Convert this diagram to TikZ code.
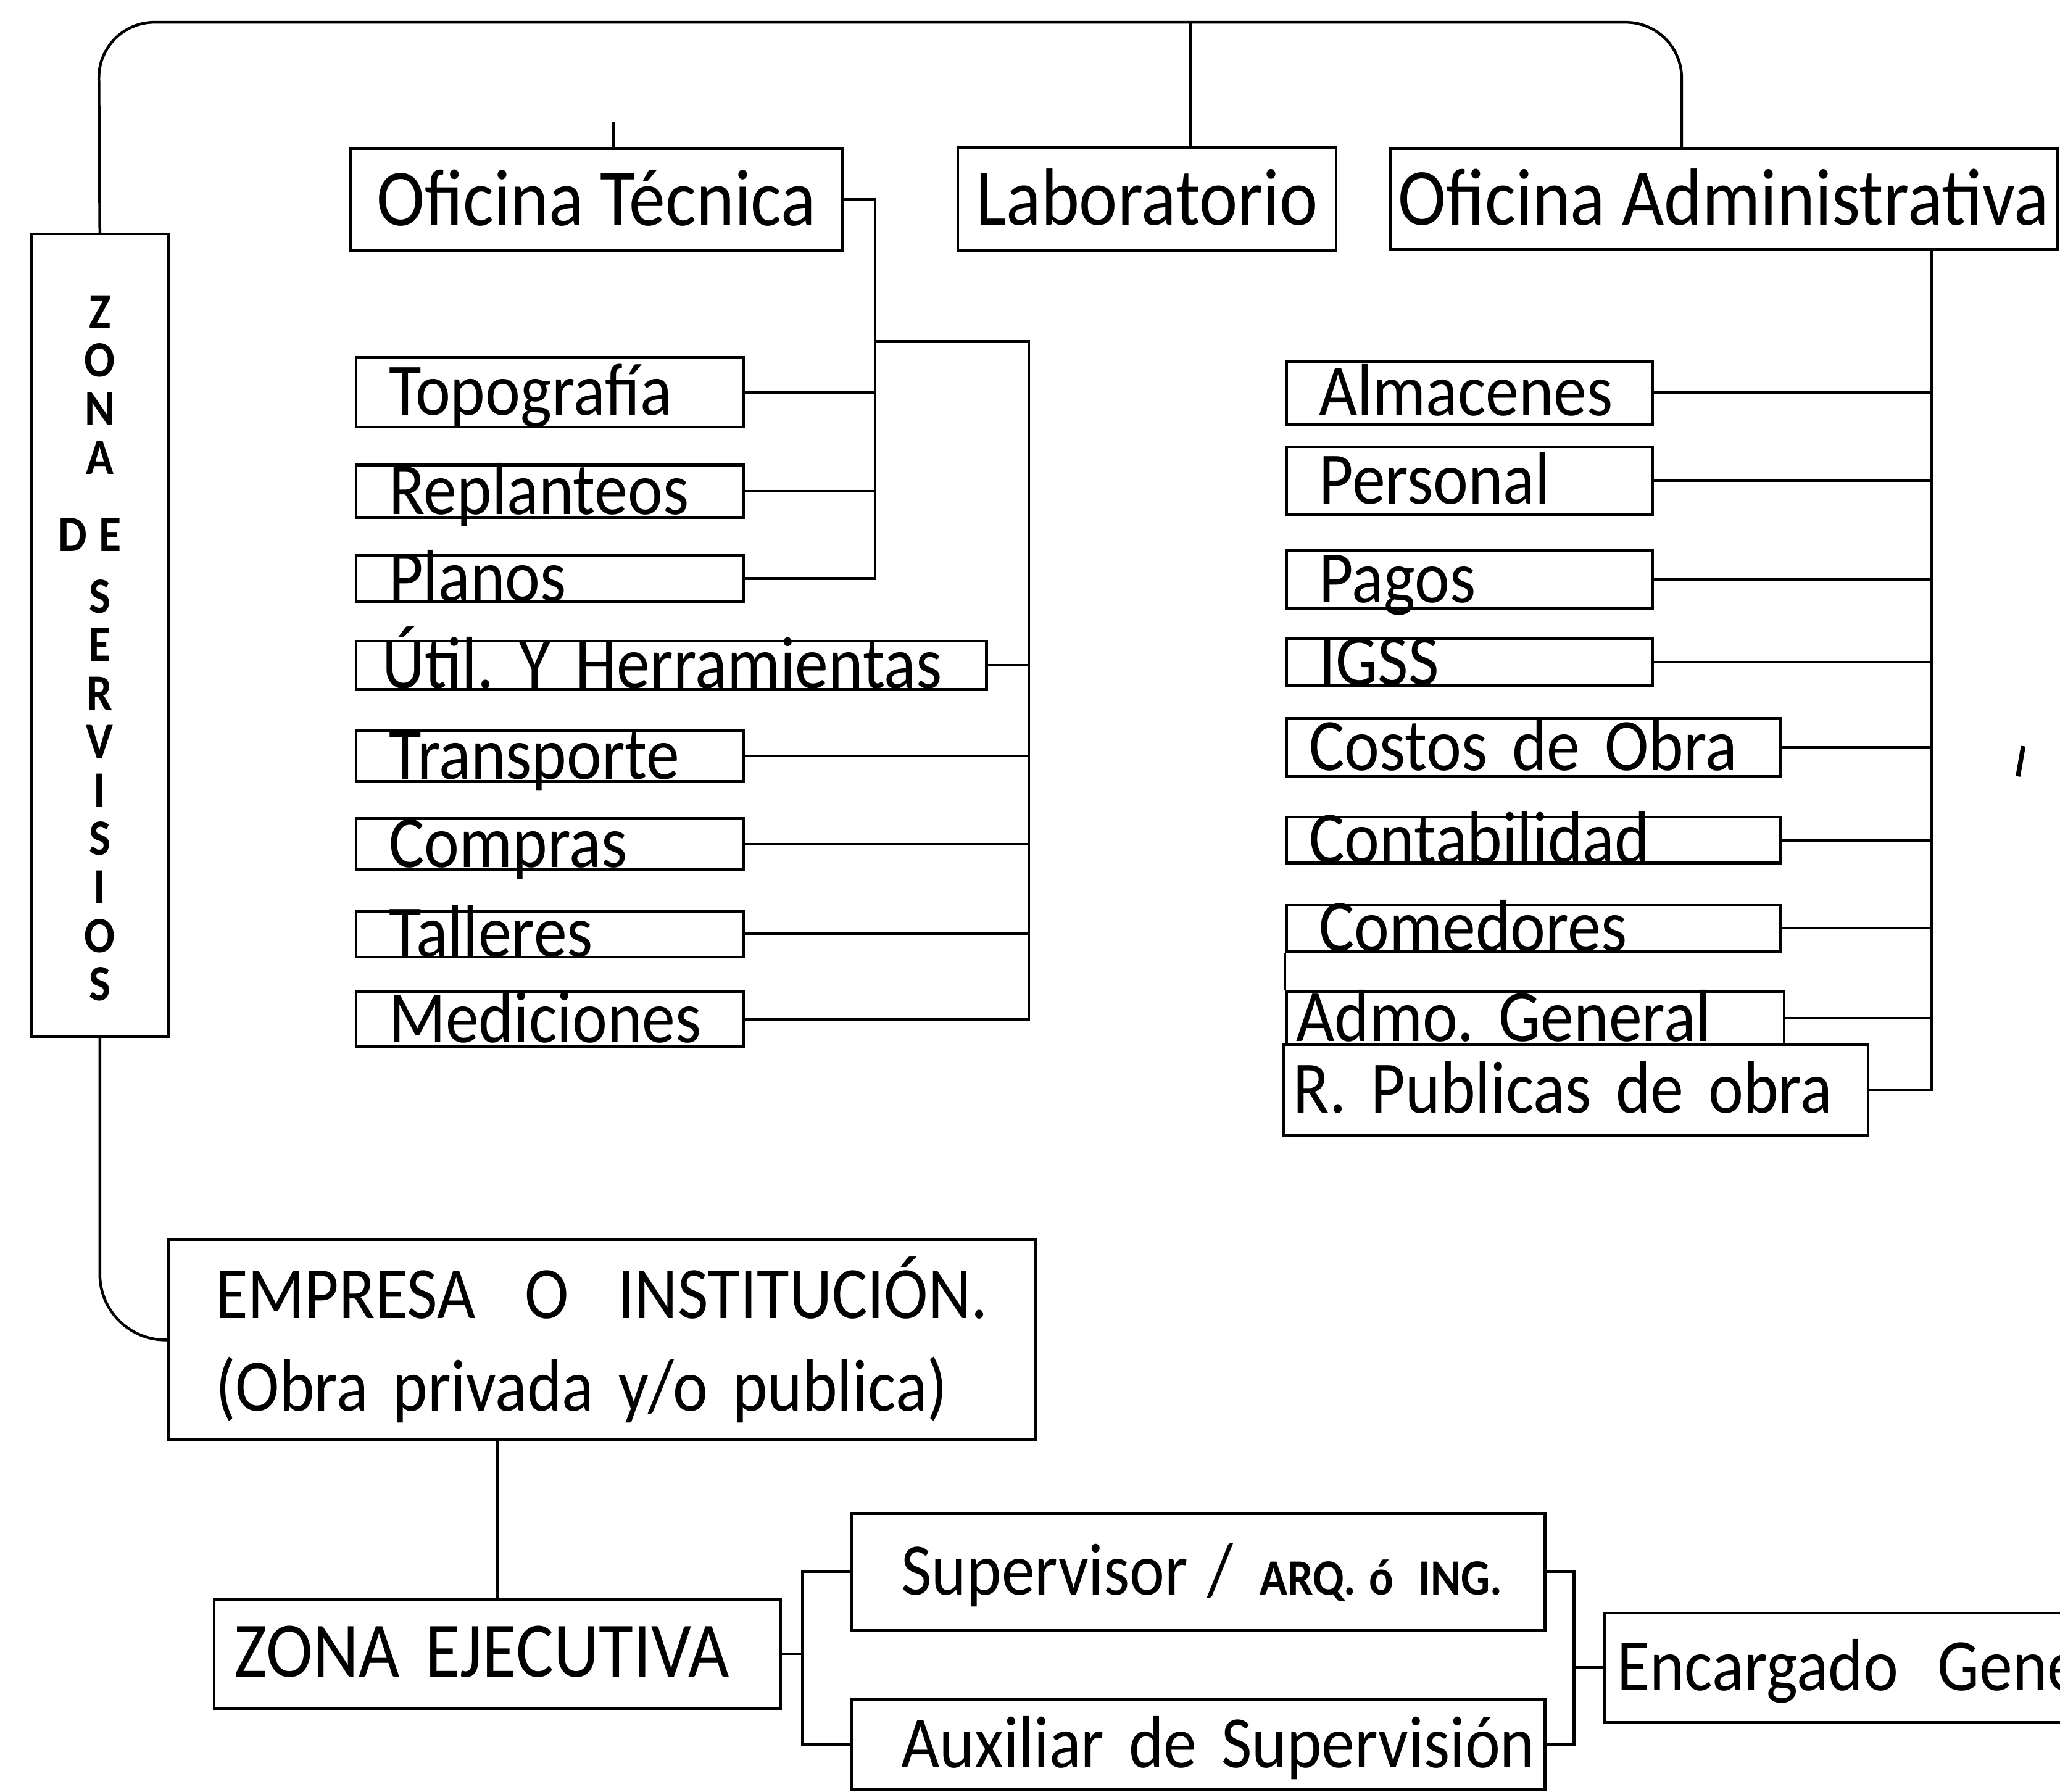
\documentclass[tikz,border=0pt]{standalone}
\usepackage{fontspec}
\setmainfont{Carlito}[FakeStretch=0.9]
\newcommand{\titfont}{\fontsize{35}{40}\selectfont}
\newcommand{\cajafont}{\fontsize{32}{36}\selectfont}
\newcommand{\empfont}{\fontsize{32}{40}\selectfont}
\newcommand{\zonafont}{\fontsize{22}{21}\selectfont\bfseries}
\newcommand{\siglafont}{\fontsize{22}{24}\selectfont\bfseries}

\begin{document}
\frenchspacing
\begin{tikzpicture}[
    x=0.02cm, y=-0.02cm,
    line width=1.2pt,
    caja/.style={draw, align=center, inner sep=0pt, text height=0.78cm, text depth=0pt, font=\titfont},
    celda/.style={draw, anchor=west, align=left, inner xsep=0.5cm, inner ysep=0pt, text height=0.7cm, text depth=0pt, font=\cajafont},
    letrero/.style={align=center, inner sep=0pt, font=\zonafont},
]
\useasboundingbox (0,0) rectangle (1568,1364);
\clip (0,0) rectangle (1568,1364);

% fila superior
\node[caja, minimum width=7.48cm, minimum height=1.56cm] (tecnica) at (454,152) {Oficina Técnica};
\node[caja, minimum width=5.76cm, minimum height=1.58cm] (lab) at (873,151.5) {Laboratorio};
\node[caja, minimum width=10.16cm, minimum height=1.54cm] (admin) at (1312,151.5) {Oficina Administrativa};

% zona de servisios
\node[draw, minimum width=2.08cm, minimum height=12.22cm] (zona) at (76,483.5) {};
\node[letrero] (zonatxt) at (76,493.5) {Z\\O\\N\\A\\[0.44cm]D\kern0.18cm E\kern0.3cm\\[0.2cm]S\\E\\R\\V\\I\\S\\I\\O\\S};

% oficina tecnica
\node[celda, text width=4.9cm, minimum height=1.06cm] (topo) at (270,298.5) {Topografía};
\node[celda, text width=4.9cm, minimum height=0.8cm] (replant) at (270,374) {Replanteos};
\node[celda, text width=4.9cm, minimum height=0.7cm] (planos) at (270,440.5) {Planos};
\node[celda, inner xsep=0.4cm, text width=8.8cm, minimum height=0.74cm] (util) at (270,506.5) {\mbox{Útil. Y Herramientas}};
\node[celda, text width=4.9cm, minimum height=0.78cm] (transp) at (270,575.5) {Transporte};
\node[celda, text width=4.9cm, minimum height=0.78cm] (compras) at (270,642.5) {Compras};
\node[celda, text width=4.9cm, minimum height=0.68cm] (talleres) at (270,711) {Talleres};
\node[celda, text width=4.9cm, minimum height=0.84cm] (medic) at (270,776) {Mediciones};

% oficina administrativa
\node[celda, text width=4.58cm, minimum height=0.96cm] (alm) at (978,299) {Almacenes};
\node[celda, text width=4.58cm, minimum height=1.04cm] (pers) at (978,366) {Personal};
\node[celda, text width=4.58cm, minimum height=0.88cm] (pagos) at (978,441) {Pagos};
\node[celda, text width=4.58cm, minimum height=0.72cm] (igss) at (978,504) {IGSS};
\node[celda, inner xsep=0.35cm, text width=6.82cm, minimum height=0.88cm] (costos) at (978,569) {\mbox{Costos de Obra}};
\node[celda, inner xsep=0.35cm, text width=6.82cm, minimum height=0.7cm] (conta) at (978,639.5) {Contabilidad};
\node[celda, text width=6.52cm, minimum height=0.7cm] (come) at (978,706.5) {Comedores};
\node[celda, inner xsep=0.15cm, text width=7.28cm, minimum height=0.8cm] (admo) at (978,775) {Admo. General};
\node[celda, inner xsep=0.15cm, text width=8.6cm, minimum height=1.38cm] (rpub) at (976,829.5) {R. Publicas de obra};

% empresa y zona ejecutiva
\node[draw, anchor=west, align=left, text width=11.76cm, inner xsep=0.72cm, minimum height=3.05cm, font=\empfont] (empresa) at (127,1020) {\mbox{EMPRESA\ \ O\ \ INSTITUCIÓN.}\\(Obra privada y/o publica)};
\node[celda, inner xsep=0.3cm, text width=8.02cm, minimum height=1.66cm, font=\fontsize{34}{38}\selectfont] (ejec) at (162,1259) {ZONA EJECUTIVA};
\node[celda, inner xsep=0.76cm, text width=9.04cm, minimum height=1.78cm] (sup) at (647,1196.5) {\mbox{Supervisor\hspace{0.3cm}/\hspace{0.4cm}{\siglafont ARQ.\hspace{0.2cm}ó ING.}}};
\node[celda, inner xsep=0.76cm, text width=9.04cm, minimum height=1.36cm] (aux) at (647,1328) {\mbox{Auxiliar de Supervisión}};
\node[celda, inner xsep=0.2cm, text width=8cm, minimum height=1.66cm] (enc) at (1220,1269.5) {\mbox{Encargado\hspace{0.6cm}General}};

% puntos de enlace
\coordinate (busL) at (75,17);
\coordinate (busR) at (1280,17);
\coordinate (busM) at (906,17);
\coordinate (marca) at (467,93);
\coordinate (tecbus) at (666,260);
\coordinate (herbus) at (783,260);
\coordinate (admbus) at (1470,0);
\coordinate (ejbus) at (611,0);
\coordinate (encbus) at (1198,0);

\draw[rounded corners=0.85cm] (zona.north) -- (busL) -- (busR) -- (busR |- admin.north);
\draw (busM) -- (busM |- lab.north);
\draw (marca) -- (marca |- tecnica.north);

\draw (tecnica.east) -| (tecbus) |- (planos.east);
\foreach \n in {topo,replant}
    \draw (\n.east) -- (\n.east -| tecbus);
\draw (tecbus) -- (herbus) |- (medic.east);
\foreach \n in {util,transp,compras,talleres}
    \draw (\n.east) -- (\n.east -| herbus);

\draw (admin.south -| admbus) |- (rpub.east);
\foreach \n in {alm,pers,pagos,igss,costos,conta,come,admo}
    \draw (\n.east) -- (\n.east -| admbus);
\draw (come.south west) -- (admo.north west);

\draw[rounded corners=1cm] (zona.south) |- (empresa.west);
\draw (ejec.north) -- (ejec.north |- empresa.south);
\draw (ejec.east) -- (ejec.east -| ejbus);
\draw (sup.west) -| (ejbus |- aux.west) -- (aux.west);
\draw (sup.east) -| (encbus |- aux.east) -- (aux.east);
\draw (enc.west) -- (enc.west -| encbus);

% trazo suelto
\draw[line width=2pt] (1536,591) -- (1540,568);

\end{tikzpicture}
\end{document}
